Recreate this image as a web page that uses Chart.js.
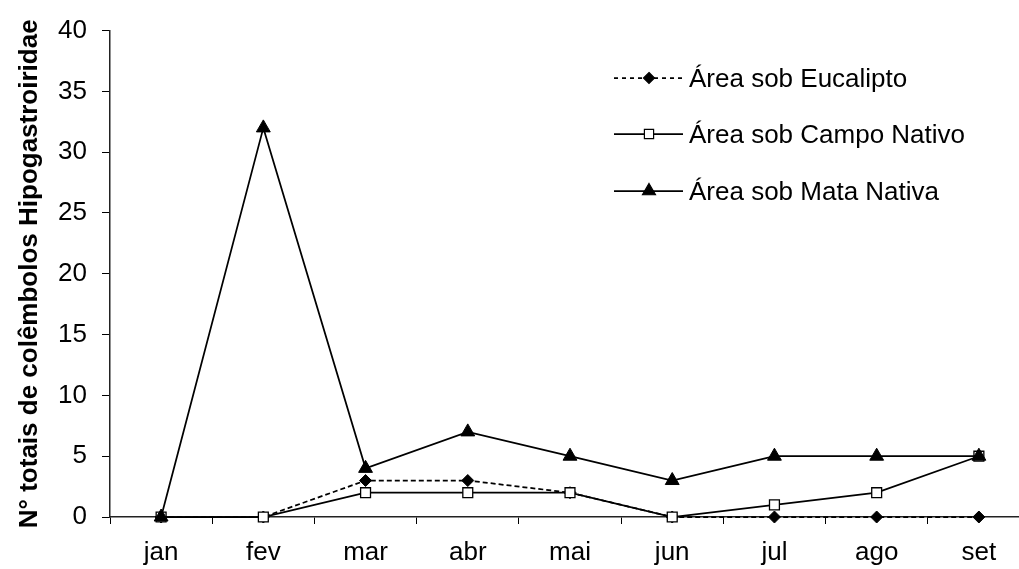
<!DOCTYPE html>
<html>
<head>
<meta charset="utf-8">
<script src="https://cdn.jsdelivr.net/npm/chart.js@4/dist/chart.umd.min.js"></script>
<style>
html,body{margin:0;padding:0;background:#fff;overflow:hidden;width:1019px;height:569px;}
#wrap{width:1040px;height:569px;}
</style>
</head>
<body>
<div id="wrap"><canvas id="c" width="1040" height="569"></canvas></div>
<script>
const months = ['jan','fev','mar','abr','mai','jun','jul','ago','set'];
const eucalipto = [0,0,3,3,2,0,0,0,0];
const campoNativo = [0,0,2,2,2,0,1,2,5];
const mataNativa = [0,32,4,7,5,3,5,5,5];
const seriesNames = ['Área sob Eucalipto','Área sob Campo Nativo','Área sob Mata Nativa'];
const yTitle = 'N° totais de colêmbolos Hipogastroiridae';

const FONT = '"Liberation Sans", Arial, sans-serif';

function drawShape(ctx, style, r, x, y) {
  if (style === 'rectRot') {
    ctx.moveTo(x, y - r); ctx.lineTo(x + r, y); ctx.lineTo(x, y + r); ctx.lineTo(x - r, y); ctx.closePath();
  } else if (style === 'rect') {
    const s = Math.SQRT1_2 * r;
    ctx.rect(x - s, y - s, 2 * s, 2 * s);
  } else if (style === 'triangle') {
    ctx.moveTo(x, y - r); ctx.lineTo(x + r * 0.866, y + r * 0.5); ctx.lineTo(x - r * 0.866, y + r * 0.5); ctx.closePath();
  }
}

const legendPlugin = {
  id: 'excelLegend',
  afterDraw(chart) {
    const ctx = chart.ctx;
    const rows = [78, 134, 191];
    chart.data.datasets.forEach((ds, i) => {
      const y = rows[i];
      ctx.save();
      ctx.strokeStyle = ds.borderColor;
      ctx.lineWidth = ds.borderWidth;
      ctx.setLineDash(ds.borderDash ? [4, 4] : []);
      ctx.beginPath();
      ctx.moveTo(614, y);
      ctx.lineTo(683, y);
      ctx.stroke();
      ctx.setLineDash([]);
      ctx.fillStyle = ds.pointBackgroundColor;
      ctx.strokeStyle = ds.pointBorderColor;
      ctx.lineWidth = 1.2;
      ctx.beginPath();
      drawShape(ctx, ds.pointStyle, ds.pointRadius - 0.5, 649, y);
      ctx.fill();
      ctx.stroke();
      ctx.fillStyle = '#000';
      ctx.font = '26px ' + FONT;
      ctx.textBaseline = 'alphabetic';
      ctx.textAlign = 'left';
      ctx.fillText(ds.label, 689, y + 9);
      ctx.restore();
    });
  }
};

new Chart(document.getElementById('c'), {
  type: 'line',
  data: {
    labels: months,
    datasets: [
      { label: seriesNames[0], data: eucalipto, borderColor: '#000', borderWidth: 1.75, borderDash: [5, 3],
        pointStyle: 'rectRot', pointRadius: 6, pointBackgroundColor: '#000', pointBorderColor: '#000', pointBorderWidth: 1, tension: 0, clip: false, order: 3 },
      { label: seriesNames[1], data: campoNativo, borderColor: '#000', borderWidth: 1.75,
        pointStyle: 'rect', pointRadius: 7, pointBackgroundColor: '#fff', pointBorderColor: '#000', pointBorderWidth: 1.3, tension: 0, clip: false, order: 2 },
      { label: seriesNames[2], data: mataNativa, borderColor: '#000', borderWidth: 1.75,
        pointStyle: 'triangle', pointRadius: 8, pointBackgroundColor: '#000', pointBorderColor: '#000', pointBorderWidth: 1, tension: 0, clip: false, order: 1 }
    ]
  },
  options: {
    responsive: false,
    animation: false,
    devicePixelRatio: 1,
    layout: { padding: { top: 29, right: 10, left: 0, bottom: 0 } },
    plugins: { legend: { display: false }, tooltip: { enabled: false } },
    scales: {
      x: {
        offset: true,
        afterFit: s => { s.height = 52; },
        grid: { offset: true, drawOnChartArea: false, drawTicks: true, tickLength: 7, color: '#000', lineWidth: 1 },
        border: { color: '#222', width: 1.5 },
        ticks: { color: '#000', font: { family: FONT, size: 26 }, padding: 13, maxRotation: 0, autoSkip: false }
      },
      y: {
        min: 0, max: 40,
        afterFit: s => { s.width = 110; },
        grid: { drawOnChartArea: false, drawTicks: true, tickLength: 8, color: '#000', lineWidth: 1 },
        border: { color: '#222', width: 1.5 },
        ticks: { stepSize: 5, color: '#000', font: { family: FONT, size: 26 }, padding: 15 },
        title: { display: true, text: yTitle, color: '#000', font: { family: FONT, size: 26, weight: 'bold' }, padding: { top: 14, bottom: 0 } }
      }
    }
  },
  plugins: [legendPlugin]
});
</script>
</body>
</html>
